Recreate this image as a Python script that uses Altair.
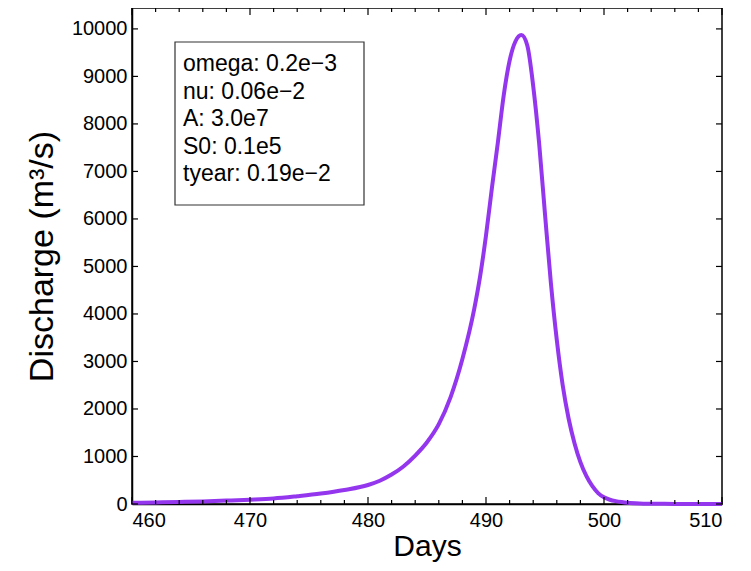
import altair as alt
import pandas as pd

# ---- data ----
days = [460, 462, 464, 466, 468, 470, 472, 474, 476, 478, 480, 481, 482, 483, 484,
        485, 486, 487, 488, 489, 489.5, 490, 490.5, 491, 491.5, 492, 492.5, 493,
        493.5, 494, 494.5, 495, 495.5, 496, 496.5, 497, 497.5, 498, 498.5, 499,
        499.5, 500, 500.5, 501, 501.5, 502, 503, 504, 506, 508, 510]
discharge = [25, 32, 42, 55, 72, 92, 118, 165, 220, 295, 400, 490, 620, 790, 1020,
             1300, 1680, 2250, 3050, 4100, 4790, 5650, 6650, 7600, 8600, 9330, 9740, 9870,
             9650, 8800, 7600, 6100, 4650, 3450, 2500, 1800, 1280, 880, 590, 380,
             230, 140, 90, 60, 40, 25, 10, 5, 2, 1, 0]

x_major = [460, 470, 480, 490, 500, 510]
x_minor = [462, 464, 466, 468, 472, 474, 476, 478, 482, 484, 486, 488,
           492, 494, 496, 498, 502, 504, 506, 508]
y_major = [0, 1000, 2000, 3000, 4000, 5000, 6000, 7000, 8000, 9000, 10000]

legend_lines = ["omega: 0.2e\u22123", "nu: 0.06e\u22122", "A: 3.0e7", "S0: 0.1e5", "tyear: 0.19e\u22122"]

W, H = 590, 496
FONT = "Liberation Sans"
LINE_COLOR = "#9436EE"

xs = alt.Scale(domain=[460, 510], nice=False, zero=False)
ys = alt.Scale(domain=[0, 10440], nice=False, zero=True)

df = pd.DataFrame({"day": days, "q": discharge})

line = alt.Chart(df).mark_line(color=LINE_COLOR, strokeWidth=4, interpolate="monotone").encode(
    x=alt.X("day:Q", scale=xs,
            axis=alt.Axis(title="Days", values=x_major, ticks=False, grid=False,
                          labelFontSize=20, titleFontSize=30, labelPadding=6, titlePadding=1,
                          format="d")),
    y=alt.Y("q:Q", scale=ys,
            axis=alt.Axis(title="Discharge (m\u00b3/s)", values=y_major, ticks=False, grid=False,
                          labelFontSize=20, titleFontSize=34, labelPadding=5, titlePadding=12,
                          format="d")),
)

dmaj = pd.DataFrame({"day": x_major})
dmin = pd.DataFrame({"day": x_minor})
dy = pd.DataFrame({"q": y_major})

tick_style = dict(color="black", strokeWidth=1.2)

xmaj_b = alt.Chart(dmaj).mark_rule(**tick_style).encode(
    x=alt.X("day:Q", scale=xs), y=alt.value(H), y2=alt.value(H - 7))
xmaj_t = alt.Chart(dmaj).mark_rule(**tick_style).encode(
    x=alt.X("day:Q", scale=xs), y=alt.value(0), y2=alt.value(7))
xmin_b = alt.Chart(dmin).mark_rule(**tick_style).encode(
    x=alt.X("day:Q", scale=xs), y=alt.value(H), y2=alt.value(H - 4))
xmin_t = alt.Chart(dmin).mark_rule(**tick_style).encode(
    x=alt.X("day:Q", scale=xs), y=alt.value(0), y2=alt.value(4))
y_l = alt.Chart(dy).mark_rule(**tick_style).encode(
    y=alt.Y("q:Q", scale=ys), x=alt.value(0), x2=alt.value(6))
y_r = alt.Chart(dy).mark_rule(**tick_style).encode(
    y=alt.Y("q:Q", scale=ys), x=alt.value(W), x2=alt.value(W - 6))

box = alt.Chart(pd.DataFrame({"a": [0]})).mark_rect(
    fill="white", stroke="#333333", strokeWidth=1.2).encode(
    x=alt.value(43), x2=alt.value(232), y=alt.value(34), y2=alt.value(197))

legend_text = alt.Chart(pd.DataFrame({"a": [0]})).mark_text(
    align="left", baseline="alphabetic", fontSize=23, font=FONT, color="black",
    lineHeight=27.5).encode(
    x=alt.value(51), y=alt.value(63), text=alt.value(legend_lines))

chart = alt.layer(
    line, xmin_b, xmin_t, xmaj_b, xmaj_t, y_l, y_r, box, legend_text
).properties(
    width=W, height=H,
    autosize=alt.AutoSizeParams(type="none"),
    padding={"left": 124, "top": 0, "right": 20, "bottom": 59},
).configure_view(
    stroke="black", strokeWidth=1.5
).configure_axis(
    labelFont=FONT, titleFont=FONT, labelColor="black", titleColor="black",
    titleFontWeight="normal", domainColor="black", domainWidth=1.5,
)

chart.save("out.html", embed_options={"renderer": "svg", "actions": False})
